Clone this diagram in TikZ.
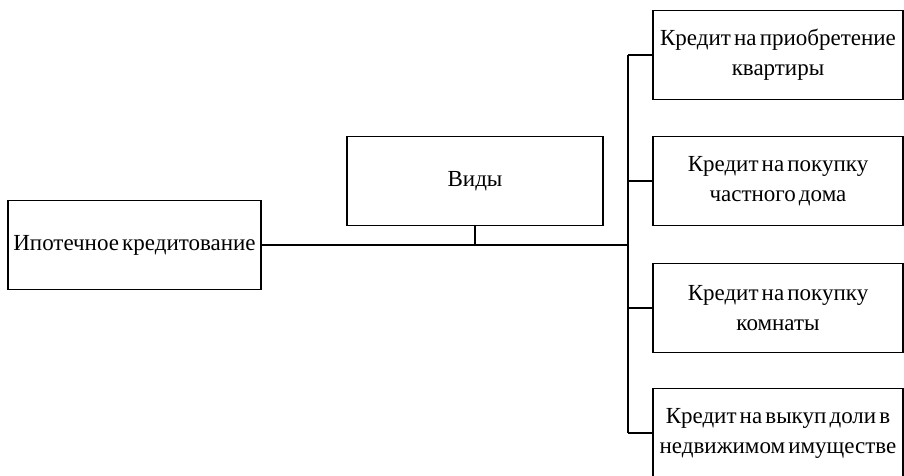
\documentclass[tikz,border=0pt]{standalone}
\usepackage{fontspec}
\setmainfont[WordSpace=0.55]{Liberation Serif}
\begin{document}
\begin{tikzpicture}
[x=1pt, y=-1pt,
 nodes={draw=black, line width=1.7pt, fill=white, align=center, inner sep=0pt,
        font=\fontsize{23}{30}\selectfont, minimum height=89pt},
 semithick]
\useasboundingbox (0,0) rectangle (904,475);
\node (Ipoteka) at (134.5,245) [minimum width=253pt] {Ипотечное кредитование};
\node (Vidy) at (475,181) [minimum width=256pt] {Виды};
\node (Kvartira) at (778,55) [minimum width=250pt] {Кредит на приобретение\\квартиры};
\node (Dom) at (778,181) [minimum width=250pt] {Кредит на покупку\\частного дома};
\node (Komnata) at (778,308) [minimum width=250pt] {Кредит на покупку\\комнаты};
\node (Dolya) at (778,433) [minimum width=250pt] {Кредит на выкуп доли в\\недвижимом имуществе};
\coordinate (Bus) at (628,245);
\draw[line width=2.8pt] (Ipoteka.east) -- (Bus);
\draw[line width=1.7pt] (Vidy.south) -- (Vidy.south |- Bus);
\draw[line width=1.7pt] (Bus |- Kvartira.west) -- (Bus |- Dolya.west);
\draw[line width=1.7pt] (Bus |- Kvartira.west) -- (Kvartira.west);
\draw[line width=1.7pt] (Bus |- Dom.west) -- (Dom.west);
\draw[line width=1.7pt] (Bus |- Komnata.west) -- (Komnata.west);
\draw[line width=1.7pt] (Bus |- Dolya.west) -- (Dolya.west);
\end{tikzpicture}
\end{document}
